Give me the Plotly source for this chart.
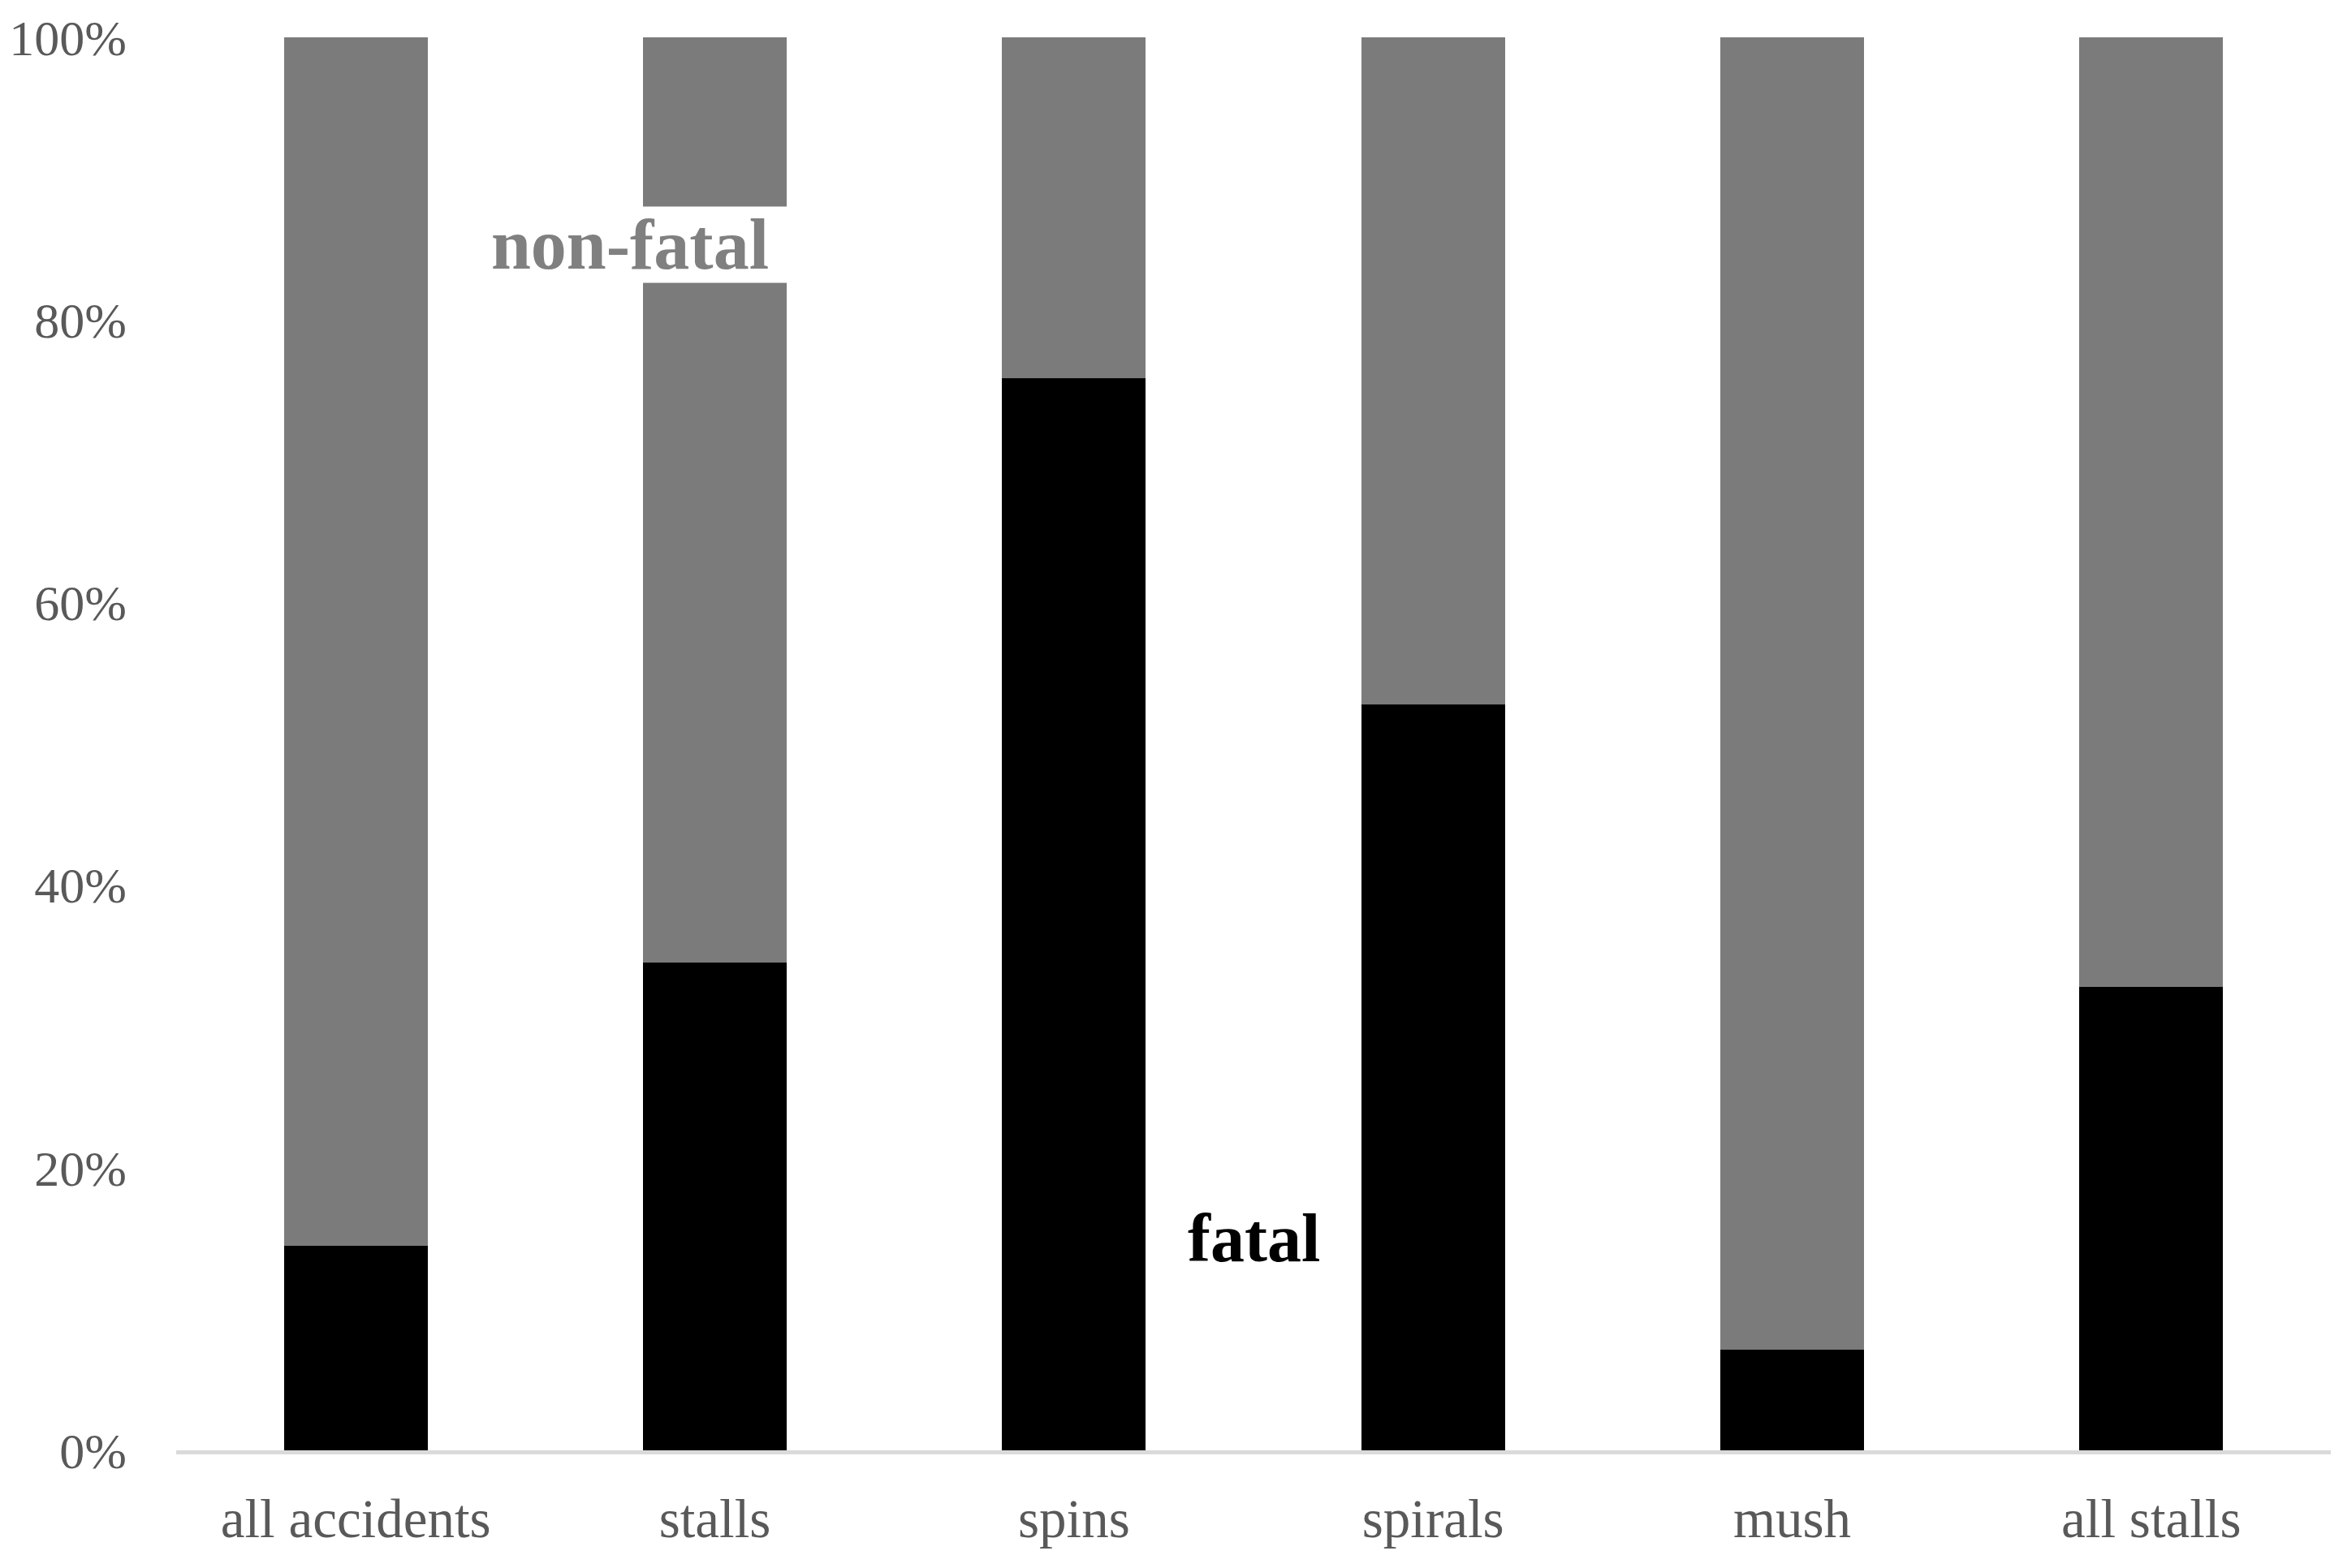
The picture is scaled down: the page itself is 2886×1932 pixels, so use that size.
import plotly.graph_objects as go

categories = ["all accidents", "stalls", "spins", "spirals", "mush", "all stalls"]
fatal = [0.145, 0.345, 0.759, 0.528, 0.071, 0.328]
non_fatal = [1 - v for v in fatal]
y_ticks = [0, 0.2, 0.4, 0.6, 0.8, 1.0]
y_tick_labels = ["0%", "20%", "40%", "60%", "80%", "100%"]

FONT = "Liberation Serif"

fig = go.Figure()
fig.add_trace(go.Bar(x=categories, y=fatal, name="fatal",
                     marker=dict(color="#000000", line=dict(width=0))))
fig.add_trace(go.Bar(x=categories, y=non_fatal, name="non-fatal",
                     marker=dict(color="#7b7b7b", line=dict(width=0))))

fig.update_layout(
    barmode="stack",
    bargap=0.6,
    width=2870, height=1916,
    margin=dict(l=209, r=7, t=38, b=137, autoexpand=False),
    paper_bgcolor="white", plot_bgcolor="white",
    showlegend=False,
    font=dict(family=FONT, color="#595959", size=62),
)
fig.update_xaxes(
    showgrid=False, showline=True, linecolor="#dadada", linewidth=5,
    ticks="", tickfont=dict(family=FONT, size=67, color="#595959"),
    ticklabelstandoff=22,
)
fig.update_yaxes(
    range=[0, 1], showgrid=False, showline=False, zeroline=False,
    tickvals=y_ticks, ticktext=y_tick_labels,
    tickfont=dict(family=FONT, size=62, color="#595959"),
    ticklabelstandoff=60, ticklabeloverflow="allow", automargin=False,
)

fig.add_annotation(x=1, y=0.8535, xref="x", yref="y", xshift=-105,
                   text="<b>non-fatal</b>", showarrow=False,
                   font=dict(family=FONT, size=88, color="#808080"),
                   bgcolor="white", width=410, height=93, borderpad=0)
fig.add_annotation(x=2.5, y=0.150, xref="x", yref="y",
                   text="<b>fatal</b>", showarrow=False,
                   font=dict(family=FONT, size=84, color="#000000"))

fig.write_html("out.html")
